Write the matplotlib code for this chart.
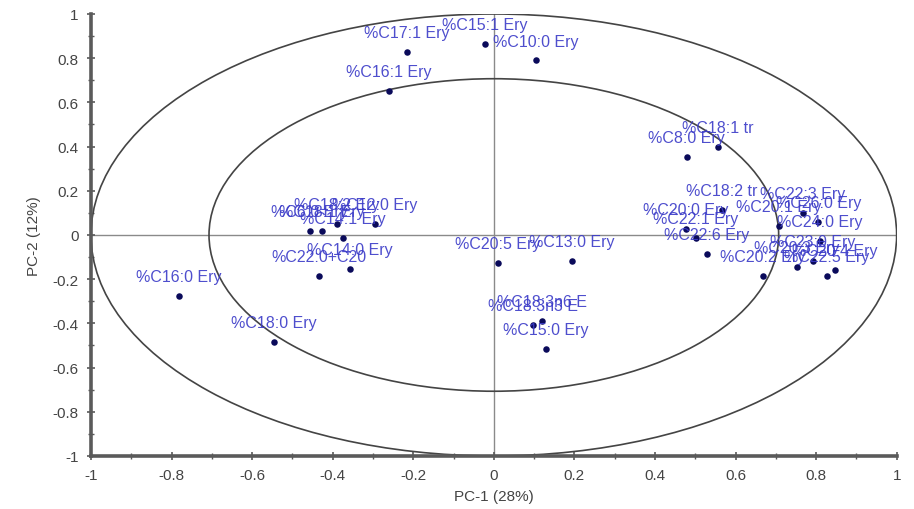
import matplotlib
matplotlib.use("Agg")
import matplotlib.pyplot as plt
from matplotlib.patches import Ellipse
from matplotlib.ticker import MultipleLocator
import numpy as np

plt.rcParams['font.family'] = ['Liberation Sans', 'DejaVu Sans']

# Correlation loadings for PC-1 / PC-2
variables = [
    "%C17:1 Ery", "%C15:1 Ery", "%C10:0 Ery", "%C16:1 Ery",
    "%C18:1 tr", "%C8:0 Ery",
    "%C18:2 tr", "%C22:3 Ery", "%C20:1 Ery", "%C26:0 Ery", "%C20:0 Ery",
    "%C22:1 Ery", "%C22:6 Ery", "%C24:0 Ery", "%C23:0 Ery", "%C20:2 Ery",
    "%C20:3 Ery", "%C22:5 Ery", "%C20:4 Ery",
    "%C6:0 Ery", "%C18:1 Ery", "%C18:2 Ery", "%C12:0 Ery", "%C14:1 Ery",
    "%C14:0 Ery", "%C22:0+C20",
    "%C20:5 Ery", "%C13:0 Ery", "%C18:3n3 E", "%C18:3n6 E", "%C15:0 Ery",
    "%C16:0 Ery", "%C18:0 Ery",
]
pc1 = [
    -0.216, -0.022, 0.104, -0.261,
    0.556, 0.479,
    0.566, 0.767, 0.707, 0.806, 0.476,
    0.501, 0.529, 0.809, 0.792, 0.667,
    0.752, 0.826, 0.846,
    -0.457, -0.427, -0.390, -0.295, -0.375,
    -0.357, -0.434,
    0.010, 0.194, 0.097, 0.119, 0.129,
    -0.782, -0.546,
]
pc2 = [
    0.828, 0.864, 0.790, 0.652,
    0.398, 0.353,
    0.113, 0.100, 0.041, 0.059, 0.027,
    -0.014, -0.086, -0.027, -0.118, -0.186,
    -0.145, -0.186, -0.158,
    0.018, 0.018, 0.050, 0.050, -0.014,
    -0.154, -0.186,
    -0.127, -0.118, -0.407, -0.389, -0.516,
    -0.276, -0.484,
]
pc1_label = "PC-1 (28%)"
pc2_label = "PC-2 (12%)"

fig = plt.figure(figsize=(9.14, 5.10), dpi=100)
ax = fig.add_axes([0.0996, 0.104, 0.8814, 0.8666])

# 100% and 50% explained-variance circles
for r in (1.0, np.sqrt(0.5)):
    ax.add_patch(Ellipse((0, 0), 2 * r, 2 * r, fill=False,
                         edgecolor="#444444", linewidth=1.2, zorder=2))

ax.axhline(0, color="#8a8a8a", linewidth=1.0, zorder=1)
ax.axvline(0, color="#8a8a8a", linewidth=1.0, zorder=1)

ax.scatter(pc1, pc2, s=22, color="#0a0a5a", zorder=4, linewidths=0)
for name, x, y in zip(variables, pc1, pc2):
    ax.annotate(name, (x, y), xytext=(0, 10.5), textcoords="offset points",
                ha="center", va="baseline", fontsize=11.5, color="#3b3bc8",
                alpha=0.9, zorder=5)

ax.set_xlim(-1, 1)
ax.set_ylim(-1, 1)
ax.xaxis.set_major_locator(MultipleLocator(0.2))
ax.yaxis.set_major_locator(MultipleLocator(0.2))
ax.xaxis.set_minor_locator(MultipleLocator(0.1))
ax.yaxis.set_minor_locator(MultipleLocator(0.1))

def fmt(v, _):
    v = round(v, 1)
    if v == 0:
        return "0"
    if abs(v) == 1:
        return "%d" % v
    return ("%g" % v)
ax.xaxis.set_major_formatter(plt.FuncFormatter(fmt))
ax.yaxis.set_major_formatter(plt.FuncFormatter(fmt))

for side in ("top", "right"):
    ax.spines[side].set_visible(False)
for side in ("left", "bottom"):
    ax.spines[side].set_color("#5a5a5a")
    ax.spines[side].set_linewidth(2.6)

ax.tick_params(which="major", direction="inout", length=6, width=1.2,
               color="#5a5a5a", labelsize=11, labelcolor="#444444", pad=6)
ax.tick_params(which="minor", direction="inout", length=4, width=1.0,
               color="#5a5a5a")

ax.set_xlabel(pc1_label, fontsize=11, color="#444444", labelpad=5)
ax.set_ylabel(pc2_label, fontsize=11, color="#444444", labelpad=8)

fig.savefig("out.png", dpi=100, facecolor="white")
